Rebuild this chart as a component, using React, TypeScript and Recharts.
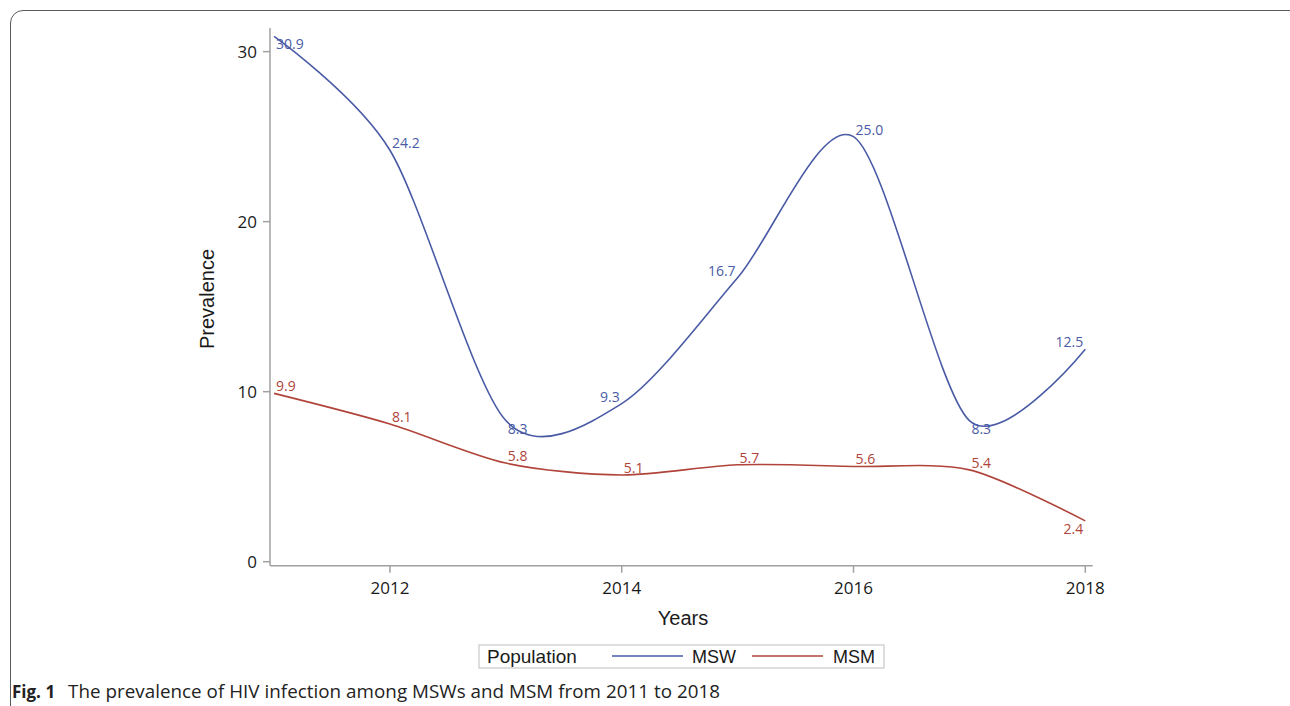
import React from 'react';
import { LineChart, Line, XAxis, YAxis, LabelList } from 'recharts';

const years = [2011, 2012, 2013, 2014, 2015, 2016, 2017, 2018];
const mswValues = [30.9, 24.2, 8.3, 9.3, 16.7, 25.0, 8.3, 12.5];
const msmValues = [9.9, 8.1, 5.8, 5.1, 5.7, 5.6, 5.4, 2.4];
const xTicks = [2012, 2014, 2016, 2018];
const yTicks = [0, 10, 20, 30];

// label placement (style): ne = above-right, se = below-right, nw = above-left, sw = below-left
const mswPlacement = ['se', 'ne', 'se', 'nw', 'nw', 'ne', 'se', 'nw'];
const msmPlacement = ['ne', 'ne', 'ne', 'ne', 'ne', 'ne', 'ne', 'sw'];

const MSW_COLOR = '#4a5ba6';
const MSM_COLOR = '#b0443a';
const AXIS_COLOR = '#a0a0a0';
const TICK_FONT = '"Open Sans", "DejaVu Sans", sans-serif';
const TITLE_FONT = '"Liberation Sans", Arial, sans-serif';

const data = years.map((y, i) => ({ year: y, msw: mswValues[i], msm: msmValues[i] }));

// Cardinal spline curve factory (same algorithm as d3 curveCardinal)
function cardinalPoint(that: any, x: number, y: number) {
  that._context.bezierCurveTo(
    that._x1 + that._k * (that._x2 - that._x0),
    that._y1 + that._k * (that._y2 - that._y0),
    that._x2 + that._k * (that._x1 - x),
    that._y2 + that._k * (that._y1 - y),
    that._x2,
    that._y2
  );
}

class CardinalCurve {
  _context: any;
  _k: number;
  _line: number = NaN;
  _point: number = 0;
  _x0 = NaN; _x1 = NaN; _x2 = NaN; _y0 = NaN; _y1 = NaN; _y2 = NaN;
  constructor(context: any, tension: number) {
    this._context = context;
    this._k = (1 - tension) / 6;
  }
  areaStart() { this._line = 0; }
  areaEnd() { this._line = NaN; }
  lineStart() {
    this._x0 = this._x1 = this._x2 = this._y0 = this._y1 = this._y2 = NaN;
    this._point = 0;
  }
  lineEnd() {
    switch (this._point) {
      case 2: this._context.lineTo(this._x2, this._y2); break;
      case 3: cardinalPoint(this, this._x1, this._y1); break;
    }
    if (this._line || (this._line !== 0 && this._point === 1)) this._context.closePath();
    this._line = 1 - this._line;
  }
  point(x: number, y: number) {
    x = +x; y = +y;
    switch (this._point) {
      case 0:
        this._point = 1;
        if (this._line) this._context.lineTo(x, y); else this._context.moveTo(x, y);
        break;
      case 1:
        this._point = 2;
        this._x1 = x; this._y1 = y;
        break;
      case 2:
        this._point = 3;
        cardinalPoint(this, x, y);
        break;
      default:
        cardinalPoint(this, x, y);
        break;
    }
    this._x0 = this._x1; this._x1 = this._x2; this._x2 = x;
    this._y0 = this._y1; this._y1 = this._y2; this._y2 = y;
  }
}

const smoothCurve: any = (context: any) => new CardinalCurve(context, 0.15);

const makeLabel = (placement: string[], color: string) => (props: any) => {
  const { x, y, value, index } = props;
  const p = placement[index] || 'ne';
  const east = p.includes('e');
  const north = p.includes('n');
  return (
    <text
      x={x + (east ? 2 : -2)}
      y={y + (north ? -7.5 : 7.5)}
      textAnchor={east ? 'start' : 'end'}
      dominantBaseline="central"
      fill={color}
      fontSize={14}
      fontFamily={TICK_FONT}
    >
      {Number(value).toFixed(1)}
    </text>
  );
};

export default function App() {
  return (
    <div style={{ position: 'absolute', left: 0, top: 0, width: 1290, height: 706, overflow: 'hidden', background: '#fff' }}>
      <div
        style={{
          position: 'absolute',
          left: 10,
          top: 10,
          width: 1300,
          height: 760,
          border: '1.5px solid #5a5a5a',
          borderRadius: 13,
          boxSizing: 'border-box',
        }}
      />
      <div style={{ position: 'absolute', left: 0, top: 0 }}>
        <LineChart
          width={1290}
          height={706}
          data={data}
          margin={{ top: 28, right: 197.3, bottom: 100.3, left: 210 }}
        >
          <XAxis
            dataKey="year"
            type="number"
            domain={[2010.965, 2018.064]}
            allowDataOverflow
            ticks={xTicks}
            interval={0}
            height={40}
            stroke={AXIS_COLOR}
            strokeWidth={1.5}
            tickSize={7}
            tickMargin={9}
            tick={{ fill: '#1a1a1a', fontSize: 17, fontFamily: TICK_FONT }}
          />
          <YAxis
            type="number"
            domain={[-0.235, 31.39]}
            allowDataOverflow
            ticks={yTicks}
            interval={0}
            width={60}
            stroke={AXIS_COLOR}
            strokeWidth={1.5}
            tickSize={7}
            tickMargin={6}
            tick={{ fill: '#1a1a1a', fontSize: 17, fontFamily: TICK_FONT }}
          />
          <Line
            dataKey="msw"
            type={smoothCurve}
            stroke={MSW_COLOR}
            strokeWidth={1.6}
            dot={false}
            isAnimationActive={false}
          >
            <LabelList dataKey="msw" content={makeLabel(mswPlacement, MSW_COLOR)} />
          </Line>
          <Line
            dataKey="msm"
            type={smoothCurve}
            stroke={MSM_COLOR}
            strokeWidth={1.6}
            dot={false}
            isAnimationActive={false}
          >
            <LabelList dataKey="msm" content={makeLabel(msmPlacement, MSM_COLOR)} />
          </Line>
        </LineChart>
      </div>
      <svg width={1290} height={706} style={{ position: 'absolute', left: 0, top: 0, pointerEvents: 'none' }}>
        <text x={683} y={625} textAnchor="middle" fontSize={20} fontFamily={TITLE_FONT} fill="#1a1a1a">
          Years
        </text>
        <text
          x={0}
          y={0}
          transform="translate(214,299) rotate(-90)"
          textAnchor="middle"
          fontSize={20}
          fontFamily={TITLE_FONT}
          fill="#1a1a1a"
        >
          Prevalence
        </text>
        <rect x={479} y={645} width={405} height={23} fill="none" stroke="#c8c8c8" strokeWidth={1.2} />
        <text x={487} y={663} fontSize={19} fontFamily={TITLE_FONT} fill="#1a1a1a">
          Population
        </text>
        <line x1={612} y1={656} x2={683} y2={656} stroke={MSW_COLOR} strokeWidth={1.6} />
        <text x={692} y={663} fontSize={18} fontFamily={TITLE_FONT} fill="#1a1a1a">
          MSW
        </text>
        <line x1={752} y1={656} x2={823} y2={656} stroke={MSM_COLOR} strokeWidth={1.6} />
        <text x={833} y={663} fontSize={18} fontFamily={TITLE_FONT} fill="#1a1a1a">
          MSM
        </text>
        <text x={12} y={698} fontSize={17} fontFamily={TICK_FONT} fill="#222">
          <tspan fontWeight="bold">Fig. 1</tspan>
        </text>
        <text x={68} y={698} fontSize={18.8} fontFamily={TICK_FONT} fill="#222" textLength={652} lengthAdjust="spacing">
          The prevalence of HIV infection among MSWs and MSM from 2011 to 2018
        </text>
      </svg>
    </div>
  );
}
